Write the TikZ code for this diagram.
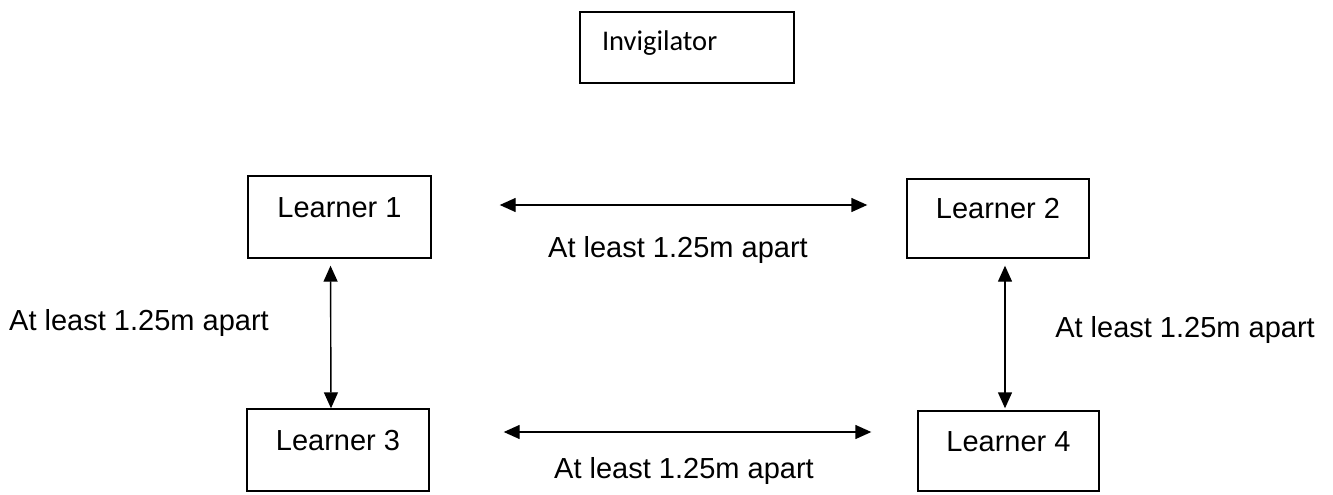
\documentclass[tikz,border=0pt]{standalone}
\usepackage{fontspec}
\setmainfont{Liberation Sans}
\newfontfamily\carlito{Carlito}
\usetikzlibrary{arrows.meta}

\tikzset{
  learner/.style={draw, rectangle, line width=1.4pt, inner sep=0pt,
    minimum width=182pt, minimum height=80pt,
    text height=20pt, text depth=20pt, font=\fontsize{29}{34}\selectfont},
  apart/.style={{Triangle[length=16pt,width=14pt]}-{Triangle[length=16pt,width=14pt]}, line width=1.4pt},
  gaplabel/.style={anchor=base, inner sep=0pt, font=\fontsize{29}{34}\selectfont},
}

\begin{document}
\begin{tikzpicture}[x=1pt, y=-1pt]
\useasboundingbox (0,0) rectangle (1333,495);

\node[draw, line width=1.4pt, minimum height=71pt, text width=170pt, inner xsep=22pt, align=left,
  text height=20pt, text depth=14pt, font=\carlito\fontsize{28.5}{34}\selectfont] (inv) at (687,47.5) {Invigilator}; % top box

\node[learner, minimum width=183pt, minimum height=82pt] (l1) at (339.5,217) {Learner 1};
\node[learner, minimum height=79pt] (l2) at (998,218.5) {Learner 2};
\node[learner, minimum height=82pt] (l3) at (338,450) {Learner 3};
\node[learner, minimum width=181pt] (l4) at (1008.5,451) {Learner 4};

\draw[apart, shorten <=68pt, shorten >=39pt] ([yshift=12pt]l1.east) -- ([yshift=13.5pt]l2.west); % 1-2
\draw[apart, shorten <=7pt] ([xshift=-9pt]l1.south) -- ([xshift=-7pt]l3.north); % 1-3
\draw[apart, shorten <=7pt, shorten >=2pt] ([xshift=7pt]l2.south) -- ([xshift=-3.5pt]l4.north); % 2-4
\draw[apart, shorten <=74pt, shorten >=46pt] ([yshift=18pt]l3.east) -- ([yshift=19pt]l4.west); % 3-4

\node[gaplabel] (gap12) at (678,257) {At least 1.25m apart};
\node[gaplabel] (gap13) at (139,330) {At least 1.25m apart};
\node[gaplabel] (gap24) at (1185,337) {At least 1.25m apart};
\node[gaplabel] (gap34) at (684,478) {At least 1.25m apart};

\end{tikzpicture}
\end{document}
